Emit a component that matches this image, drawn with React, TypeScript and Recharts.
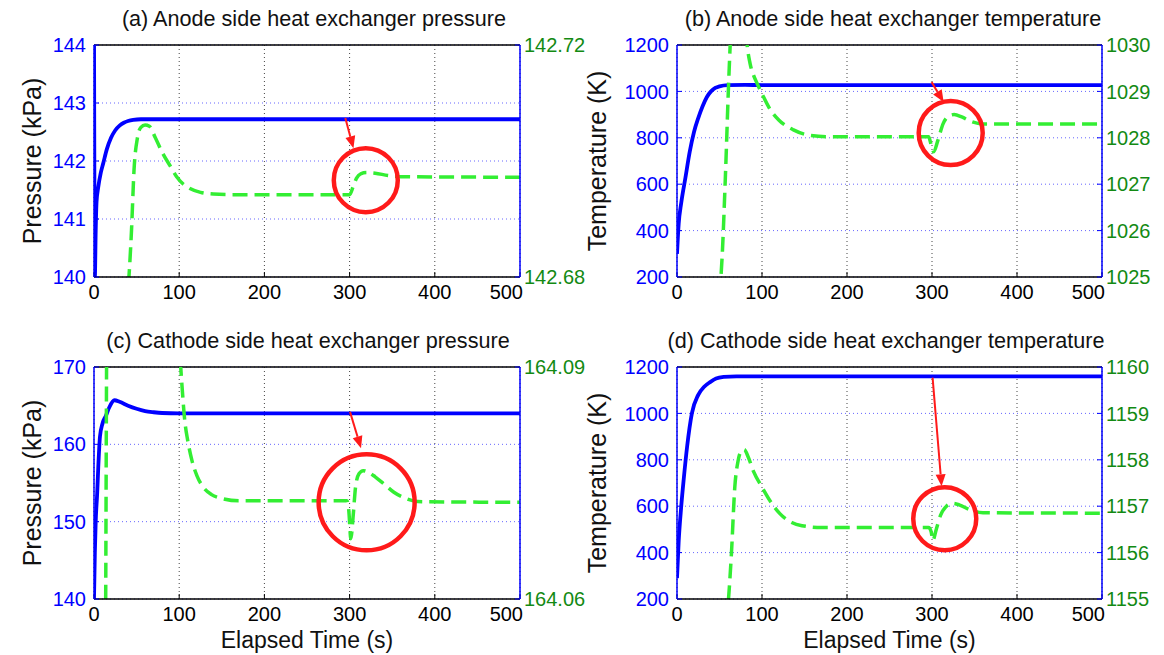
import { CartesianGrid, Line, LineChart, ReferenceDot, ReferenceLine, XAxis, YAxis } from "recharts";

const timeTicks = [0, 100, 200, 300, 400, 500];

// (a) anode side pressure
const aBlueT = [0, 1, 2, 3, 5, 8, 11, 15, 20, 25, 30, 35, 40, 46, 55, 100, 500];
const aBlueV = [144.5, 140, 140.8, 141.3, 141.55, 141.8, 141.97, 142.2, 142.4, 142.53, 142.61, 142.66, 142.69, 142.71, 142.72, 142.72, 142.72];
const aGreenT = [38, 41, 44, 47, 51, 55, 60, 65, 72, 80, 90, 97, 105, 112, 125, 140, 160, 300, 304, 308, 313, 320, 330, 345, 360, 500];
const aGreenV = [142.675, 142.68, 142.688, 142.6985, 142.704, 142.7058, 142.7062, 142.706, 142.704, 142.7015, 142.699, 142.6973, 142.696, 142.6953, 142.6946, 142.6943, 142.6942, 142.6942, 142.6955, 142.697, 142.6978, 142.698, 142.6979, 142.6975, 142.6973, 142.6972];

// (b) anode side temperature
const bBlueT = [0, 2, 5, 10, 15, 20, 25, 30, 35, 40, 45, 50, 60, 80, 100, 500];
const bBlueV = [300, 430, 520, 630, 740, 825, 885, 935, 975, 1000, 1015, 1022, 1027, 1028, 1027, 1027];
const bGreenT = [50, 53, 57, 61, 64, 68, 74, 80, 82, 86, 90, 94, 100, 110, 120, 137, 157, 180, 296, 299, 302, 307, 313, 320, 326, 335, 345, 360, 500];
const bGreenV = [1024.6, 1025.4, 1027.2, 1029.3, 1030.5, 1031, 1031.2, 1030.6, 1030.1, 1029.6, 1029.35, 1029.18, 1028.95, 1028.6, 1028.38, 1028.17, 1028.05, 1028.02, 1028.02, 1027.85, 1027.7, 1027.95, 1028.3, 1028.47, 1028.5, 1028.45, 1028.36, 1028.3, 1028.3];

// (c) cathode side pressure
const cBlueT = [0, 1, 2, 3.7, 5, 7, 10, 14, 18, 24, 30, 40, 50, 60, 70, 80, 100, 500];
const cBlueV = [140, 146, 150, 153.6, 157, 161, 162.7, 163.7, 164.8, 165.7, 165.5, 165, 164.6, 164.3, 164.15, 164.05, 164, 164];
const cGreenT = [12, 13.5, 15, 17, 25, 60, 95, 100, 103, 106.5, 110, 115, 121, 128, 138, 150, 170, 297, 299, 301.5, 304, 307, 311, 316, 322, 330, 340, 352, 366, 380, 500];
const cGreenV = [164.04, 164.055, 164.095, 164.11, 164.12, 164.12, 164.1, 164.093, 164.088, 164.0831, 164.0805, 164.0779, 164.0759, 164.0745, 164.0735, 164.073, 164.0727, 164.0727, 164.0715, 164.0678, 164.0705, 164.0745, 164.0762, 164.0766, 164.0764, 164.0758, 164.0749, 164.0738, 164.073, 164.0726, 164.0725];

// (d) cathode side temperature
const dBlueT = [0, 2, 5, 8, 12, 17.5, 25, 32, 39, 46, 55, 70, 500];
const dBlueV = [290, 450, 600, 720, 860, 1000, 1080, 1115, 1135, 1150, 1157, 1160, 1160];
const dGreenT = [58, 61, 64, 68, 72, 76, 79, 84, 90, 100, 110, 121, 135, 147, 170, 296, 299, 301, 305, 310, 317, 324, 332, 345, 360, 500];
const dGreenV = [1154.5, 1155.1, 1155.97, 1157.41, 1157.99, 1158.2, 1158.22, 1158.05, 1157.75, 1157.41, 1157.1, 1156.84, 1156.65, 1156.58, 1156.54, 1156.54, 1156.45, 1156.26, 1156.5, 1156.8, 1157.0, 1157.06, 1157.03, 1156.92, 1156.86, 1156.85];

// annotations: circle [t, value, radius], arrow [t1, v1, t2, v2] on left axis
const aCircle = [319, 141.67, 32];
const aArrow = [295, 142.74, 304.5, 142.22];
const bCircle = [322, 821, 32];
const bArrow = [299.5, 1040, 313.7, 954];
const cCircle = [320, 152.5, 48];
const cArrow = [300.5, 164.2, 313.4, 159.5];
const dCircle = [315, 546, 31.5];
const dArrow = [300.7, 1154, 311.3, 686];

const zip = (t: number[], v: number[]) => t.map((x, i) => ({ t: x, v: v[i] }));

const BLUE = "#0000ff";
const GREEN_LINE = "#33ee33";
const GREEN_TEXT = "#138a13";
const RED = "#ff1a1a";
const FONT = "'Liberation Sans', Arial, Helvetica, sans-serif";

const Arrow = (p: any) => {
  const { x1, y1, x2, y2 } = p;
  const ang = Math.atan2(y2 - y1, x2 - x1);
  const L = 12;
  const W = 5;
  const bx = x2 - L * Math.cos(ang);
  const by = y2 - L * Math.sin(ang);
  const px = -Math.sin(ang) * W;
  const py = Math.cos(ang) * W;
  return (
    <g>
      <line x1={x1} y1={y1} x2={bx} y2={by} stroke={RED} strokeWidth={2} />
      <polygon points={`${x2},${y2} ${bx + px},${by + py} ${bx - px},${by - py}`} fill={RED} />
    </g>
  );
};

// last x label sits left of the corner, like the original figure
const XTick = (props: any) => {
  const { x, y, payload } = props;
  const last = payload.value === 500;
  return (
    <text x={last ? x + 3 : x} y={y} dy="0.71em" textAnchor={last ? "end" : "middle"} fill="#000" fontSize={20} fontFamily={FONT}>
      {payload.value}
    </text>
  );
};

type PanelProps = {
  left: number;
  top: number;
  height: number;
  marginTop: number;
  leftWidth: number;
  title: string;
  titleX: number;
  yLabel: string;
  yLabelX: number;
  xLabel?: string;
  leftDomain: [number, number];
  leftTicks: number[];
  rightDomain: [number, number];
  rightTicks: number[];
  blue: { t: number; v: number }[];
  green: { t: number; v: number }[];
  circle: number[];
  arrow: number[];
};

function Panel(p: PanelProps) {
  const width = 582;
  const plotBottom = p.marginTop + 232;
  const xHeight = p.height - plotBottom;
  return (
    <div style={{ position: "absolute", left: p.left, top: p.top, width, height: p.height }}>
      <LineChart width={width} height={p.height} margin={{ top: p.marginTop, left: 0, right: 0, bottom: 0 }}>
        <CartesianGrid horizontal={false} stroke="#444" strokeDasharray="1 3" yAxisId="left" />
        <CartesianGrid vertical={false} stroke="#6666ff" strokeDasharray="1 3" yAxisId="left" />
        <XAxis
          dataKey="t"
          type="number"
          domain={[0, 500]}
          ticks={timeTicks}
          interval={0}
          allowDataOverflow
          height={xHeight}
          tickLine={{ stroke: "#000" }}
          tickSize={-5}
          tickMargin={13}
          tick={XTick}
          axisLine={{ stroke: "#000", strokeWidth: 1.5 }}
          label={p.xLabel ? { value: p.xLabel, position: "insideBottom", offset: 7, fill: "#111", fontSize: 23 } : undefined}
        />
        <YAxis
          yAxisId="left"
          domain={p.leftDomain}
          ticks={p.leftTicks}
          interval={0}
          allowDataOverflow
          width={p.leftWidth}
          tickLine={{ stroke: BLUE }}
          tickSize={-5}
          tickMargin={13}
          tick={{ fill: BLUE, fontSize: 20 }}
          axisLine={{ stroke: BLUE, strokeWidth: 1.5 }}
          label={{
            content: (lp: any) => {
              const vb = lp.viewBox;
              const cy = vb.y + vb.height / 2;
              return (
                <g fontFamily={FONT} fill="#111">
                  <text x={p.yLabelX} y={cy} transform={`rotate(-90, ${p.yLabelX}, ${cy})`} textAnchor="middle" dominantBaseline="central" fontSize={25}>
                    {p.yLabel}
                  </text>
                  <text x={p.titleX} y={vb.y - 19} textAnchor="middle" fontSize={21.6}>
                    {p.title}
                  </text>
                </g>
              );
            },
          }}
        />
        <YAxis
          yAxisId="right"
          orientation="right"
          domain={p.rightDomain}
          ticks={p.rightTicks}
          interval={0}
          allowDataOverflow
          width={62}
          tickLine={{ stroke: BLUE }}
          tickSize={-5}
          tickMargin={9}
          tick={{ fill: GREEN_TEXT, fontSize: 20, textAnchor: "start" }}
          axisLine={{ stroke: BLUE, strokeWidth: 1.5 }}
        />
        <ReferenceLine yAxisId="left" y={p.leftDomain[1]} stroke="#000" strokeWidth={1.5} />
        <Line yAxisId="left" data={p.blue} dataKey="v" type="monotone" stroke={BLUE} strokeWidth={3.8} dot={false} activeDot={false} isAnimationActive={false} />
        <Line yAxisId="right" data={p.green} dataKey="v" type="monotone" stroke={GREEN_LINE} strokeWidth={3.5} strokeDasharray="15 7" dot={false} activeDot={false} isAnimationActive={false} />
        <ReferenceLine
          yAxisId="left"
          ifOverflow="visible"
          segment={[{ x: p.arrow[0], y: p.arrow[1] }, { x: p.arrow[2], y: p.arrow[3] }]}
          shape={Arrow}
        />
        <ReferenceDot yAxisId="left" ifOverflow="visible" x={p.circle[0]} y={p.circle[1]} r={p.circle[2]} fill="none" stroke={RED} strokeWidth={4.5} />
      </LineChart>
    </div>
  );
}

export default function App() {
  return (
    <div style={{ position: "absolute", left: 0, top: 0, width: 1164, height: 655, background: "#fff", fontFamily: FONT }}>
      <style>{`.recharts-surface{overflow:visible}`}</style>
      <Panel
        left={0} top={0} height={320} marginTop={45} leftWidth={94}
        title="(a) Anode side heat exchanger pressure" titleX={314} yLabel="Pressure (kPa)" yLabelX={32}
        leftDomain={[140, 144]} leftTicks={[140, 141, 142, 143, 144]}
        rightDomain={[142.68, 142.72]} rightTicks={[142.68, 142.72]}
        blue={zip(aBlueT, aBlueV)} green={zip(aGreenT, aGreenV)} circle={aCircle} arrow={aArrow}
      />
      <Panel
        left={582} top={0} height={320} marginTop={45} leftWidth={95}
        title="(b) Anode side heat exchanger temperature" titleX={311} yLabel="Temperature (K)" yLabelX={15}
        leftDomain={[200, 1200]} leftTicks={[200, 400, 600, 800, 1000, 1200]}
        rightDomain={[1025, 1030]} rightTicks={[1025, 1026, 1027, 1028, 1029, 1030]}
        blue={zip(bBlueT, bBlueV)} green={zip(bGreenT, bGreenV)} circle={bCircle} arrow={bArrow}
      />
      <Panel
        left={0} top={320} height={335} marginTop={47} leftWidth={94}
        title="(c) Cathode side heat exchanger pressure" titleX={308} yLabel="Pressure (kPa)" yLabelX={32} xLabel="Elapsed Time (s)"
        leftDomain={[140, 170]} leftTicks={[140, 150, 160, 170]}
        rightDomain={[164.06, 164.09]} rightTicks={[164.06, 164.09]}
        blue={zip(cBlueT, cBlueV)} green={zip(cGreenT, cGreenV)} circle={cCircle} arrow={cArrow}
      />
      <Panel
        left={582} top={320} height={335} marginTop={47} leftWidth={95}
        title="(d) Cathode side heat exchanger temperature" titleX={304} yLabel="Temperature (K)" yLabelX={15} xLabel="Elapsed Time (s)"
        leftDomain={[200, 1200]} leftTicks={[200, 400, 600, 800, 1000, 1200]}
        rightDomain={[1155, 1160]} rightTicks={[1155, 1156, 1157, 1158, 1159, 1160]}
        blue={zip(dBlueT, dBlueV)} green={zip(dGreenT, dGreenV)} circle={dCircle} arrow={dArrow}
      />
    </div>
  );
}
